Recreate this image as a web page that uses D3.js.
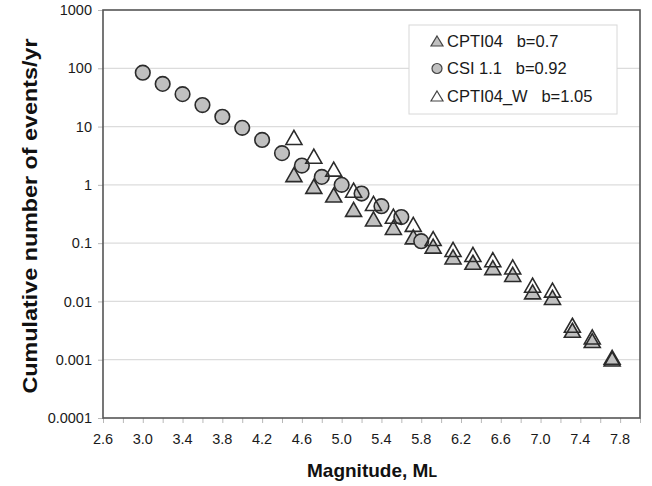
<!DOCTYPE html>
<html lang="en">
<head>
  <meta charset="UTF-8">
  <title>Cumulative events vs magnitude</title>
  <style>
    * { margin: 0; padding: 0; box-sizing: border-box; }
    body, html { background: #fff; width: 652px; height: 486px; overflow: hidden; }
    svg { display: block; font-family: "Liberation Sans", Arial, sans-serif; }
    .legend text { white-space: pre; }
  </style>
</head>
<body>
  <div id="chart"></div>

  <script src="https://d3js.org/d3.v7.min.js"></script>
  <script>
    // Values
    const csiMag = [3.0, 3.2, 3.4, 3.6, 3.8, 4.0, 4.2, 4.4, 4.6, 4.8, 5.0, 5.2, 5.4, 5.6, 5.8];
    const csiRate = [84, 54, 36, 23.4, 14.7, 9.5, 5.9, 3.5, 2.14, 1.37, 1.0, 0.71, 0.43, 0.28, 0.108];

    const cptiMag = [4.52, 4.72, 4.92, 5.12, 5.32, 5.52, 5.72, 5.92, 6.12, 6.32, 6.52, 6.72, 6.92, 7.12, 7.32, 7.52, 7.72];
    const cptiRate = [1.5, 0.94, 0.67, 0.38, 0.26, 0.186, 0.128, 0.089, 0.058, 0.047, 0.038, 0.029, 0.0146, 0.0117, 0.0032, 0.00213, 0.00103];
    const cptiWRate = [6.5, 3.1, 1.86, 0.81, 0.48, 0.29, 0.21, 0.12, 0.078, 0.064, 0.052, 0.039, 0.019, 0.0156, 0.0039, 0.00246, 0.0011];

    const xTicks = [2.6, 3.0, 3.4, 3.8, 4.2, 4.6, 5.0, 5.4, 5.8, 6.2, 6.6, 7.0, 7.4, 7.8];
    const xMinor = [2.6, 2.8, 3.0, 3.2, 3.4, 3.6, 3.8, 4.0, 4.2, 4.4, 4.6, 4.8, 5.0, 5.2, 5.4, 5.6, 5.8, 6.0, 6.2, 6.4, 6.6, 6.8, 7.0, 7.2, 7.4, 7.6, 7.8, 8.0];
    const yTicks = [0.0001, 0.001, 0.01, 0.1, 1, 10, 100, 1000];
    const yLabels = ["0.0001", "0.001", "0.01", "0.1", "1", "10", "100", "1000"];

    const legendNames = ["CPTI04   b=0.7", "CSI 1.1   b=0.92", "CPTI04_W   b=1.05"];

    const width = 652, height = 486;
    const plot = { left: 103, right: 640, top: 10, bottom: 418 };

    const svg = d3.select("#chart").append("svg")
      .attr("width", width)
      .attr("height", height);

    const x = d3.scaleLinear().domain([2.6, 8.0]).range([plot.left, plot.right]);
    const y = d3.scaleLog().domain([0.0001, 1000]).range([plot.bottom, plot.top]);

    // gridlines
    svg.append("g")
      .selectAll("line")
      .data(yTicks.slice(1, -1))
      .join("line")
      .attr("x1", plot.left).attr("x2", plot.right)
      .attr("y1", d => y(d)).attr("y2", d => y(d))
      .attr("stroke", "#dcdcdc")
      .attr("stroke-width", 1.2);

    // x axis (minor tick marks + labels)
    const xAxis = svg.append("g")
      .attr("transform", `translate(0,${plot.bottom})`)
      .call(d3.axisBottom(x).tickValues(xMinor).tickSize(5).tickFormat(""));
    xAxis.select(".domain").remove();
    xAxis.selectAll(".tick line").attr("stroke", "#b8b8b8");

    svg.append("g")
      .selectAll("text")
      .data(xTicks)
      .join("text")
      .attr("x", d => x(d))
      .attr("y", 444)
      .attr("text-anchor", "middle")
      .attr("font-size", 14.5)
      .attr("fill", "#1a1a1a")
      .text(d3.format(".1f"));

    // y axis
    const yAxis = svg.append("g")
      .attr("transform", `translate(${plot.left},0)`)
      .call(d3.axisLeft(y).tickValues(yTicks).tickSize(5).tickPadding(6)
        .tickFormat((d, i) => yLabels[i]));
    yAxis.select(".domain").remove();
    yAxis.selectAll(".tick line").attr("stroke", "#b8b8b8");
    yAxis.selectAll(".tick text")
      .attr("font-size", 14.5)
      .attr("fill", "#1a1a1a")
      .attr("font-family", "Liberation Sans, Arial, sans-serif");

    // frame
    svg.append("rect")
      .attr("x", plot.left).attr("y", plot.top)
      .attr("width", plot.right - plot.left)
      .attr("height", plot.bottom - plot.top)
      .attr("fill", "none")
      .attr("stroke", "#555")
      .attr("stroke-width", 1.6);

    function triangle(w, h) {
      return `M0,${-h / 2}L${w / 2},${h / 2}L${-w / 2},${h / 2}Z`;
    }

    const cpti = cptiMag.map((m, i) => ({ m, v: cptiRate[i] }));
    const csi = csiMag.map((m, i) => ({ m, v: csiRate[i] }));
    const cptiW = cptiMag.map((m, i) => ({ m, v: cptiWRate[i] }));

    // CPTI04 - grey triangles
    svg.append("g")
      .selectAll("path")
      .data(cpti)
      .join("path")
      .attr("d", triangle(16, 14))
      .attr("transform", d => `translate(${x(d.m)},${y(d.v)})`)
      .attr("fill", "#c0c0c0")
      .attr("stroke", "#2b2b2b")
      .attr("stroke-width", 1.6);

    // CSI 1.1 - grey circles
    svg.append("g")
      .selectAll("circle")
      .data(csi)
      .join("circle")
      .attr("cx", d => x(d.m))
      .attr("cy", d => y(d.v))
      .attr("r", 7.3)
      .attr("fill", "#c0c0c0")
      .attr("stroke", "#2b2b2b")
      .attr("stroke-width", 1.6);

    // CPTI04_W - open triangles (no fill, so the others show through)
    svg.append("g")
      .selectAll("path")
      .data(cptiW)
      .join("path")
      .attr("d", triangle(16, 14))
      .attr("transform", d => `translate(${x(d.m)},${y(d.v)})`)
      .attr("fill", "none")
      .attr("stroke", "#2b2b2b")
      .attr("stroke-width", 1.6);

    // legend
    const legend = svg.append("g").attr("class", "legend");
    legend.append("rect")
      .attr("x", 409).attr("y", 25)
      .attr("width", 208).attr("height", 89)
      .attr("fill", "#fff")
      .attr("stroke", "#d8d8d8")
      .attr("stroke-width", 1);

    const rows = legend.selectAll("g.row")
      .data(legendNames)
      .join("g")
      .attr("class", "row")
      .attr("transform", (d, i) => `translate(437,${41 + i * 27.5})`);

    rows.each(function (d, i) {
      const g = d3.select(this);
      if (i === 1) {
        g.append("circle").attr("r", 5)
          .attr("fill", "#c0c0c0").attr("stroke", "#444").attr("stroke-width", 1.2);
      } else {
        g.append("path").attr("d", triangle(12, 10))
          .attr("fill", i === 0 ? "#c0c0c0" : "none")
          .attr("stroke", "#444").attr("stroke-width", 1.2);
      }
    });

    rows.append("text")
      .attr("x", 10)
      .attr("y", 5.5)
      .attr("font-size", 16.5)
      .attr("fill", "#1a1a1a")
      .text(d => d);

    // axis titles
    svg.append("text")
      .attr("x", 372)
      .attr("y", 477)
      .attr("text-anchor", "middle")
      .attr("font-size", 19)
      .attr("font-weight", "bold")
      .attr("fill", "#111")
      .text("Magnitude, M")
      .append("tspan")
      .attr("font-size", 14)
      .text("L");

    svg.append("text")
      .attr("transform", "translate(37,216) rotate(-90)")
      .attr("text-anchor", "middle")
      .attr("font-size", 20)
      .attr("font-weight", "bold")
      .attr("fill", "#111")
      .attr("textLength", 355)
      .attr("lengthAdjust", "spacingAndGlyphs")
      .text("Cumulative number of events/yr");
  </script>
</body>
</html>
